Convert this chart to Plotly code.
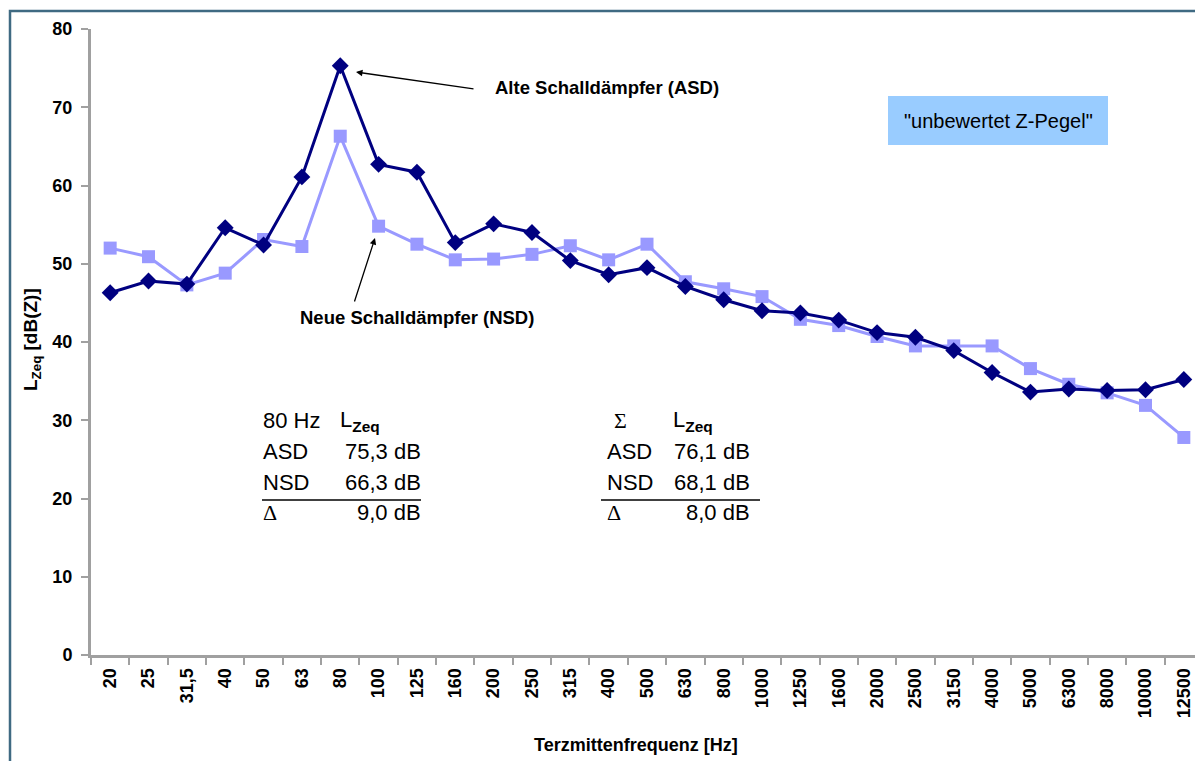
import plotly.graph_objects as go

freq = ["20", "25", "31,5", "40", "50", "63", "80", "100", "125", "160", "200", "250",
        "315", "400", "500", "630", "800", "1000", "1250", "1600", "2000", "2500",
        "3150", "4000", "5000", "6300", "8000", "10000", "12500"]
asd = [46.3, 47.8, 47.4, 54.6, 52.4, 61.1, 75.3, 62.7, 61.7, 52.7, 55.1, 54.0, 50.4, 48.6,
       49.5, 47.1, 45.4, 44.0, 43.7, 42.8, 41.2, 40.6, 38.9, 36.1, 33.6, 34.0, 33.8, 33.9, 35.2]
nsd = [52.0, 50.9, 47.3, 48.8, 53.1, 52.2, 66.3, 54.8, 52.5, 50.5, 50.6, 51.2, 52.3, 50.5,
       52.5, 47.7, 46.8, 45.8, 42.9, 42.1, 40.7, 39.5, 39.5, 39.5, 36.6, 34.6, 33.5, 31.9, 27.8]
y_ticks = [0, 10, 20, 30, 40, 50, 60, 70, 80]

FONT = "Arial, Liberation Sans, sans-serif"
SERIF = "Times New Roman, Liberation Serif, serif"
GREY = "#A0A0A0"

# page offset of the figure (browser body margin)
OFF = 8
# plot area in page pixels
PL, PT, W, H = 91, 29, 1112, 626
FIG_W, FIG_H = 1195, 753
L, T = PL - OFF, PT - OFF


def px(x):
    return (x - PL) / W


def py(y):
    return (PT + H - y) / H


fig = go.Figure()
fig.add_trace(go.Scatter(
    x=freq, y=nsd, mode="lines+markers", name="NSD",
    line=dict(color="#9999FF", width=3),
    marker=dict(symbol="square", size=13, color="#9999FF"),
))
fig.add_trace(go.Scatter(
    x=freq, y=asd, mode="lines+markers", name="ASD",
    line=dict(color="#000080", width=3),
    marker=dict(symbol="diamond", size=13, color="#000080"),
))

annotations = []


def txt(x, y, text, size=20, anchor="left", bold=False, family=FONT):
    annotations.append(dict(
        x=px(x), y=py(y), xref="paper", yref="paper", text=text, showarrow=False,
        xanchor=anchor, yanchor="middle",
        font=dict(family=family, size=size, color="black", weight="bold" if bold else "normal"),
    ))


# arrows
annotations.append(dict(x=px(356), y=py(72), xref="paper", yref="paper", text="",
                        showarrow=True, ax=119, ay=17, arrowhead=2, arrowsize=1,
                        arrowwidth=1.3, arrowcolor="black"))
annotations.append(dict(x=px(375), y=py(238), xref="paper", yref="paper", text="",
                        showarrow=True, ax=-21, ay=65, arrowhead=2, arrowsize=1,
                        arrowwidth=1.3, arrowcolor="black"))
txt(493, 88, "Alte Schalldämpfer (ASD)", size=18.5, bold=True)
txt(298, 318, "Neue Schalldämpfer (NSD)", size=18.5, bold=True)

# box label
txt(998, 121, "\"unbewertet Z-Pegel\"", size=20, anchor="center")

# table 1
TS = 22
txt(261, 421, "80 Hz", size=TS)
txt(338, 421, "L<sub><b>Zeq</b></sub>", size=TS)
txt(261, 452, "ASD", size=TS)
txt(423, 452, "75,3 dB", size=TS, anchor="right")
txt(261, 482, "NSD", size=TS)
txt(423, 482, "66,3 dB", size=TS, anchor="right")
txt(261, 512, "Δ", size=TS, family=SERIF)
txt(423, 512, "9,0 dB", size=TS, anchor="right")

# table 2
txt(612, 421, "Σ", size=TS, family=SERIF)
txt(671, 421, "L<sub><b>Zeq</b></sub>", size=TS)
txt(605, 452, "ASD", size=TS)
txt(752, 452, "76,1 dB", size=TS, anchor="right")
txt(605, 482, "NSD", size=TS)
txt(752, 482, "68,1 dB", size=TS, anchor="right")
txt(605, 512, "Δ", size=TS, family=SERIF)
txt(752, 512, "8,0 dB", size=TS, anchor="right")

# axis titles
annotations.append(dict(x=px(32), y=py(340), xref="paper", yref="paper",
                        text="L<sub>Zeq</sub> [dB(Z)]", showarrow=False, textangle=-90,
                        xanchor="center", yanchor="middle",
                        font=dict(family=FONT, size=19, color="black", weight="bold")))
annotations.append(dict(x=px(636), y=py(745), xref="paper", yref="paper",
                        text="Terzmittenfrequenz [Hz]", showarrow=False,
                        xanchor="center", yanchor="middle",
                        font=dict(family=FONT, size=18, color="black", weight="bold")))

shapes = [
    dict(type="rect", xref="paper", yref="paper", x0=px(888), x1=px(1108),
         y0=py(145), y1=py(96), fillcolor="#99CCFF", line=dict(width=0), layer="below"),
    dict(type="line", xref="paper", yref="paper", x0=px(262), x1=px(421),
         y0=py(500), y1=py(500), line=dict(color="black", width=1.3)),
    dict(type="line", xref="paper", yref="paper", x0=px(601), x1=px(760),
         y0=py(500), y1=py(500), line=dict(color="black", width=1.3)),
    dict(type="rect", xref="paper", yref="paper", x0=px(10), x1=px(1240),
         y0=py(800), y1=py(11), line=dict(color="#3F6A82", width=2.5)),
]

fig.update_layout(
    width=FIG_W, height=FIG_H,
    margin=dict(l=L, r=FIG_W - L - W, t=T, b=FIG_H - T - H, pad=0),
    paper_bgcolor="white", plot_bgcolor="white",
    showlegend=False,
    font=dict(family=FONT, color="black"),
    annotations=annotations,
    shapes=shapes,
    xaxis=dict(
        type="category", range=[-0.5, len(freq) - 0.5], tickson="boundaries",
        ticks="outside", ticklen=7, tickwidth=2, tickcolor=GREY,
        showline=True, linecolor=GREY, linewidth=3, showgrid=False, zeroline=False,
        tickangle=-90, tickfont=dict(family=FONT, size=18, color="black", weight="bold"),
        ticklabelstandoff=3, automargin=False,
    ),
    yaxis=dict(
        range=[0, 80], tickvals=y_ticks, ticks="outside", ticklen=7, tickwidth=2,
        tickcolor=GREY, showline=True, linecolor=GREY, linewidth=3, showgrid=False,
        zeroline=False, tickfont=dict(family=FONT, size=18, color="black", weight="bold"),
        ticklabelstandoff=5, automargin=False,
    ),
)

fig.write_html("out.html")
